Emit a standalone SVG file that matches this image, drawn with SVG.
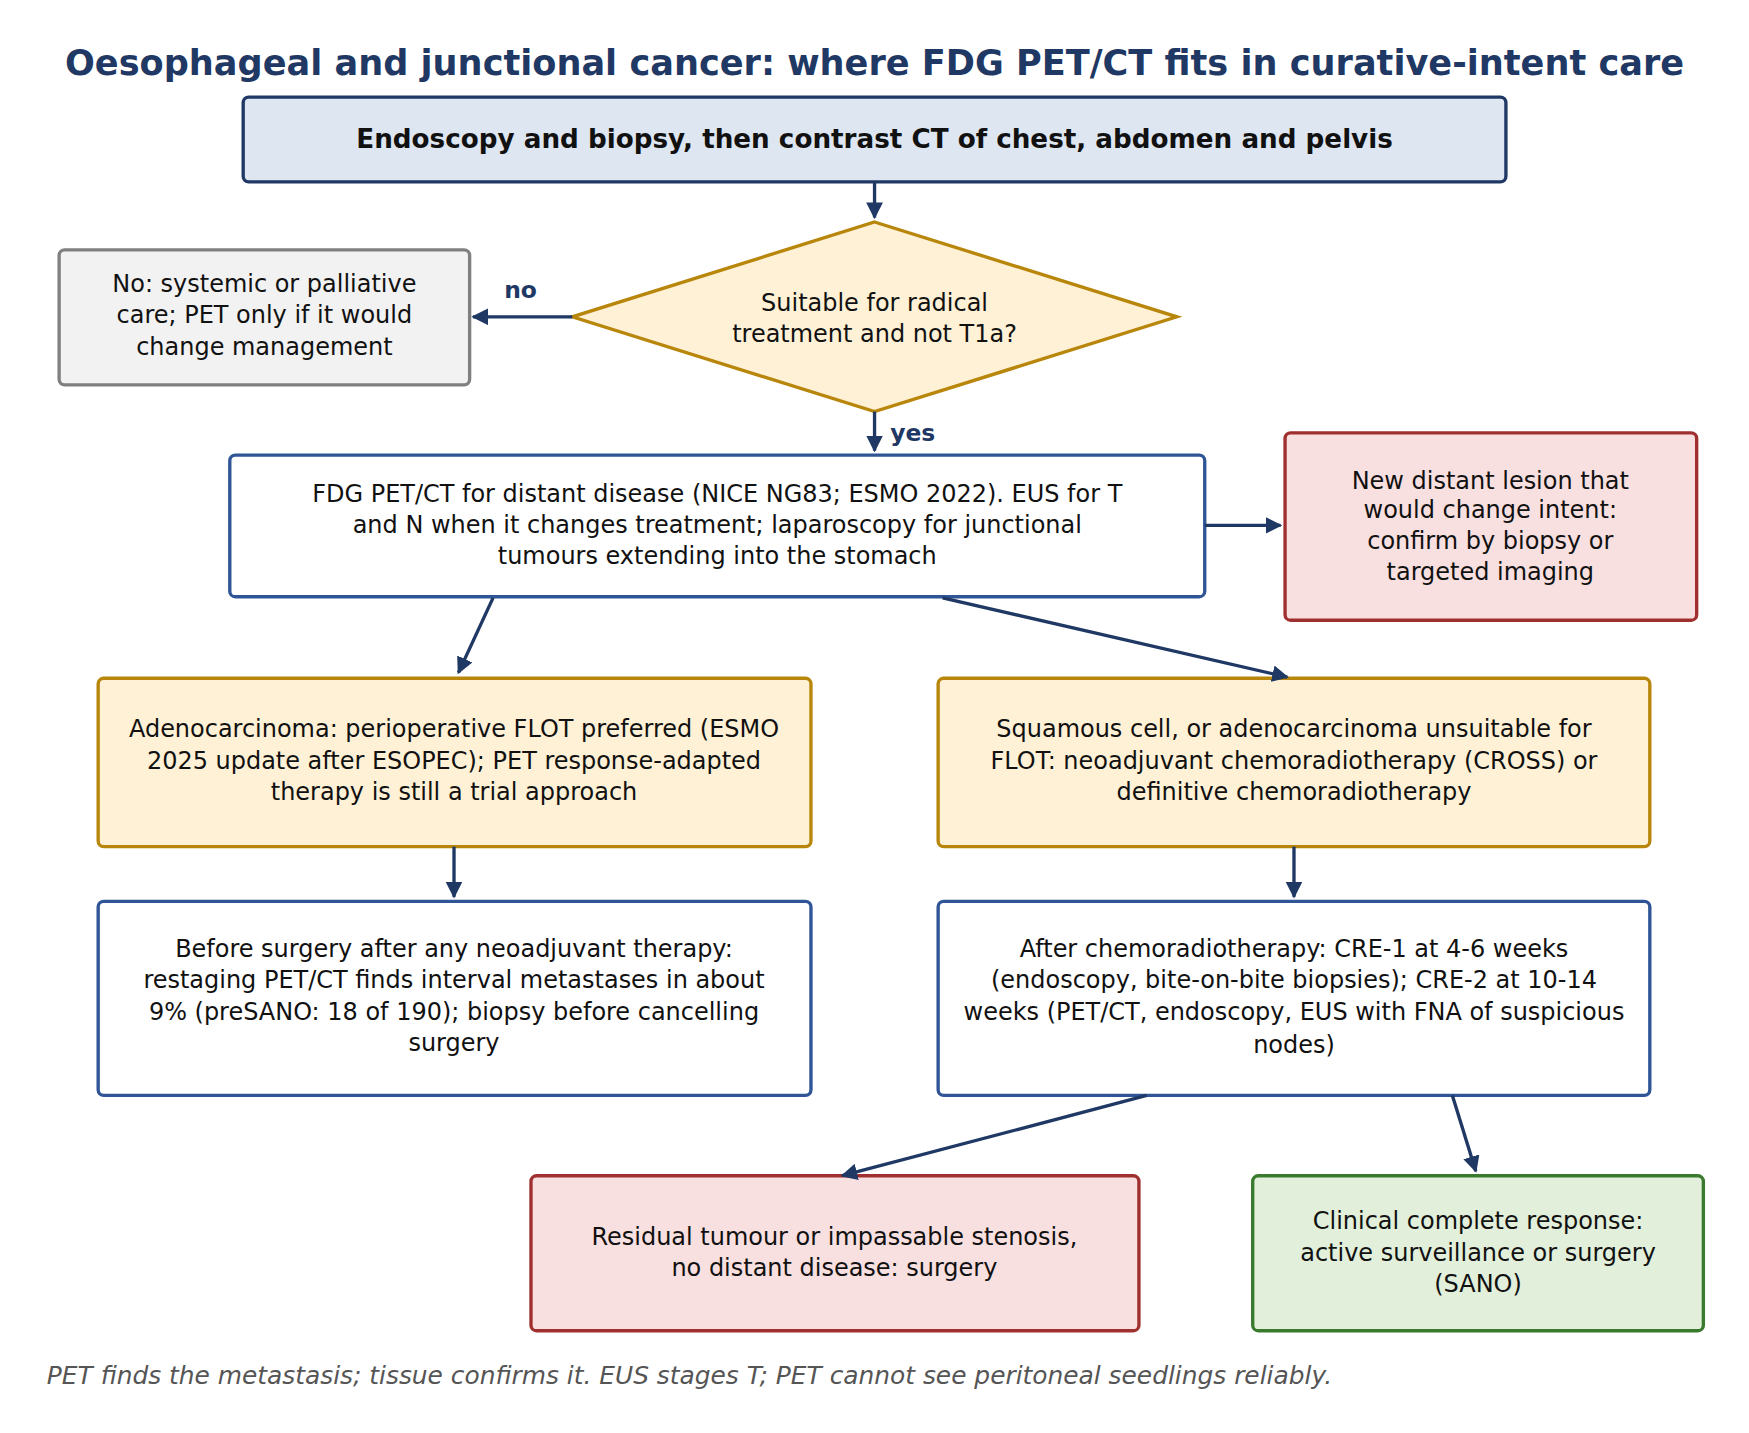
<svg xmlns="http://www.w3.org/2000/svg" width="1749" height="1433" viewBox="0 0 1749 1433">
<style>
text{font-family:"DejaVu Sans","Liberation Sans",sans-serif;font-size:21.5px;fill:#111;text-anchor:middle}
.t{font-size:31.5px;font-weight:bold;fill:#1f3864}
.b{font-weight:bold;font-size:23.5px}
.l{font-weight:bold;fill:#1f3864;text-anchor:start;font-size:21px}
.f{font-style:italic;fill:#555;text-anchor:start;font-size:22.3px}
.blue{fill:#fff;stroke:#2f5597;stroke-width:3}
.amb{fill:#fff1d6;stroke:#b8860b;stroke-width:3}
.red{fill:#f9e0e0;stroke:#a0302f;stroke-width:3}
.con line{stroke:#1f3864;stroke-width:3;marker-end:url(#a)}
</style>
<defs><marker id="a" viewBox="0 0 10 10" refX="9" refY="5" markerWidth="5" markerHeight="5" orient="auto"><path d="M0,0L10,5L0,10z" fill="#1f3864"/></marker></defs>
<rect width="1749" height="1433" fill="#fff"/>
<g transform="scale(1.1155)">
<text class="t" x="784" y="67">Oesophageal and junctional cancer: where FDG PET/CT fits in curative-intent care</text>
<g id="n1"><rect x="218" y="87" width="1132" height="76" rx="5" fill="#dde6f1" stroke="#1f3864" stroke-width="3"/><text class="b" x="784" y="133">Endoscopy and biopsy, then contrast CT of chest, abdomen and pelvis</text></g>
<g id="n2"><polygon points="784,199 1055,284 784,369 513,284" class="amb"/><text x="784" y="279">Suitable for radical</text><text x="784" y="307">treatment and not T1a?</text></g>
<g id="n3"><rect x="53" y="224" width="368" height="121" rx="5" fill="#f2f2f2" stroke="#808080" stroke-width="3"/><text x="237" y="262">No: systemic or palliative</text><text x="237" y="290">care; PET only if it would</text><text x="237" y="318">change management</text></g>
<g id="n4"><rect x="206" y="408" width="874" height="127" rx="5" class="blue"/><text x="643" y="450">FDG PET/CT for distant disease (NICE NG83; ESMO 2022). EUS for T</text><text x="643" y="478">and N when it changes treatment; laparoscopy for junctional</text><text x="643" y="506">tumours extending into the stomach</text></g>
<g id="n5"><rect x="1152" y="388" width="369" height="168" rx="5" class="red"/><text x="1336" y="438">New distant lesion that</text><text x="1336" y="464">would change intent:</text><text x="1336" y="492">confirm by biopsy or</text><text x="1336" y="520">targeted imaging</text></g>
<g id="n6"><rect x="88" y="608" width="639" height="151" rx="5" class="amb"/><text x="407" y="661">Adenocarcinoma: perioperative FLOT preferred (ESMO</text><text x="407" y="689">2025 update after ESOPEC); PET response-adapted</text><text x="407" y="717">therapy is still a trial approach</text></g>
<g id="n7"><rect x="841" y="608" width="638" height="151" rx="5" class="amb"/><text x="1160" y="661">Squamous cell, or adenocarcinoma unsuitable for</text><text x="1160" y="689">FLOT: neoadjuvant chemoradiotherapy (CROSS) or</text><text x="1160" y="717">definitive chemoradiotherapy</text></g>
<g id="n8"><rect x="88" y="808" width="639" height="174" rx="5" class="blue"/><text x="407" y="858">Before surgery after any neoadjuvant therapy:</text><text x="407" y="886">restaging PET/CT finds interval metastases in about</text><text x="407" y="914">9% (preSANO: 18 of 190); biopsy before cancelling</text><text x="407" y="942">surgery</text></g>
<g id="n9"><rect x="841" y="808" width="638" height="174" rx="5" class="blue"/><text x="1160" y="858">After chemoradiotherapy: CRE-1 at 4-6 weeks</text><text x="1160" y="886">(endoscopy, bite-on-bite biopsies); CRE-2 at 10-14</text><text x="1160" y="914">weeks (PET/CT, endoscopy, EUS with FNA of suspicious</text><text x="1160" y="944">nodes)</text></g>
<g id="n10"><rect x="476" y="1054" width="545" height="139" rx="5" class="red"/><text x="748" y="1116">Residual tumour or impassable stenosis,</text><text x="748" y="1144">no distant disease: surgery</text></g>
<g id="n11"><rect x="1123" y="1054" width="404" height="139" rx="5" fill="#e2efda" stroke="#3a7a2f" stroke-width="3"/><text x="1325" y="1102">Clinical complete response:</text><text x="1325" y="1130">active surveillance or surgery</text><text x="1325" y="1158">(SANO)</text></g>
<g class="con">
<line x1="784" y1="163" x2="784" y2="195"/>
<line x1="513" y1="284" x2="424" y2="284"/>
<line x1="784" y1="369" x2="784" y2="404"/>
<line x1="1080" y1="471" x2="1148" y2="471"/>
<line x1="442" y1="536" x2="411" y2="603"/>
<line x1="845" y1="536" x2="1154" y2="607"/>
<line x1="407" y1="759" x2="407" y2="804"/>
<line x1="1160" y1="759" x2="1160" y2="804"/>
<line x1="1028" y1="982" x2="755" y2="1054"/>
<line x1="1302" y1="982" x2="1323" y2="1050"/>
</g>
<text class="l" x="452" y="267">no</text>
<text class="l" x="798" y="395">yes</text>
<text class="f" x="42" y="1241">PET finds the metastasis; tissue confirms it. EUS stages T; PET cannot see peritoneal seedlings reliably.</text>
</g>
</svg>
